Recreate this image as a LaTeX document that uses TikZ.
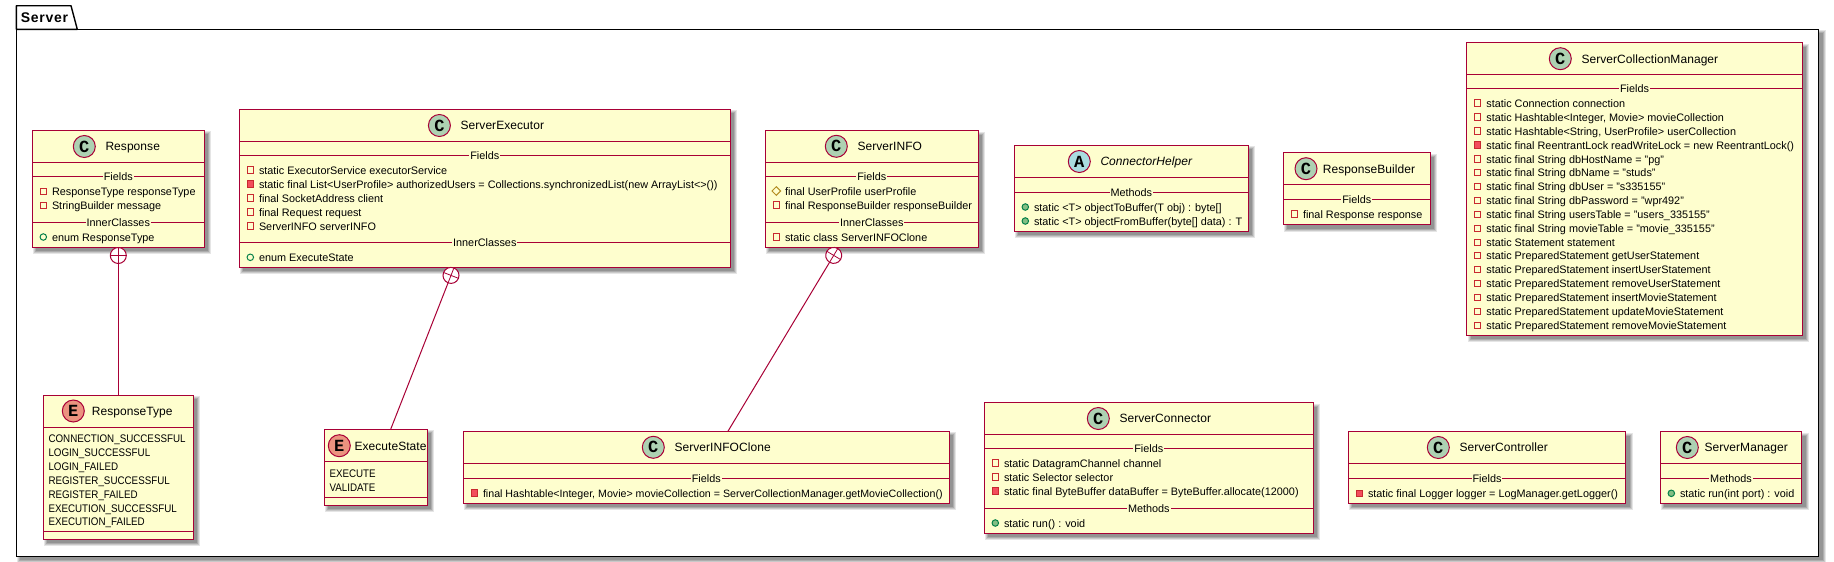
\documentclass[tikz,border=0pt]{standalone}
\usepackage{fontspec}
\setmainfont{Liberation Sans}
\newfontfamily\namefont[LetterSpace=0.5]{Liberation Sans}
\newfontfamily\pkgfont[LetterSpace=5]{Liberation Sans}
\newfontfamily\litfont[FakeStretch=0.89]{Liberation Sans}
\newfontfamily\spotfont{Liberation Mono}
\definecolor{bordr}{HTML}{A80036}
\definecolor{boxfill}{HTML}{FEFECE}
\definecolor{spotC}{HTML}{ADD1B2}
\definecolor{spotA}{HTML}{A9DCDF}
\definecolor{spotE}{HTML}{EB937F}
\definecolor{privc}{HTML}{C82930}
\definecolor{privf}{HTML}{F24D5C}
\definecolor{pubc}{HTML}{038048}
\definecolor{pubf}{HTML}{84BE84}
\definecolor{protc}{HTML}{B38D22}
\tikzset{
  x=1pt,y=-1pt,
  boxnode/.style={draw=bordr,fill=boxfill,line width=1.2pt,rectangle,inner sep=0pt,outer sep=0pt},
  memline/.style={draw=bordr,line width=1pt},
  conn/.style={draw=bordr,line width=1pt},
  plusnode/.style={circle,draw=bordr,fill=white,line width=1pt,minimum size=16pt,inner sep=0pt,outer sep=0pt},
  crossline/.style={draw=bordr,line width=.8pt},
  memtext/.style={anchor=base west,inner sep=0pt,font=\fontsize{10.85}{13}\selectfont,text=black},
  littext/.style={anchor=base west,inner sep=0pt,font=\litfont\fontsize{11}{13}\selectfont,text=black},
  seclabel/.style={anchor=center,fill=boxfill,inner xsep=1pt,inner ysep=0pt,text height=8pt,text depth=2pt,font=\fontsize{10.85}{13}\selectfont,text=black},
  nametext/.style={anchor=base west,inner sep=0pt,font=\namefont\fontsize{12}{14}\selectfont,text=black},
  spotcircle/.style={circle,draw=bordr,line width=1pt,minimum size=22pt,inner sep=0pt},
  spotletter/.style={inner sep=0pt,font=\spotfont\bfseries\fontsize{17}{17}\selectfont,text=black},
  ipriv/.style={draw=privc,line width=1pt,rectangle,minimum size=6.5pt,inner sep=0pt},
  iprivf/.style={draw=privc,fill=privf,line width=1pt,rectangle,minimum size=6.5pt,inner sep=0pt},
  ipub/.style={draw=pubc,line width=1pt,circle,minimum size=6.5pt,inner sep=0pt},
  ipubf/.style={draw=pubc,fill=pubf,line width=1pt,circle,minimum size=6.5pt,inner sep=0pt},
  iprot/.style={draw=protc,line width=1pt,diamond,minimum size=9pt,inner sep=0pt},
}
\usetikzlibrary{shapes.geometric}
\newcounter{tn}
\newcommand\shadowrect[4]{%
  \fill[black,opacity=.10] ({#1+1},{#2+1}) rectangle ({#3+7},{#4+7});
  \fill[black,opacity=.12] ({#1+2},{#2+2}) rectangle ({#3+6},{#4+6});
  \fill[black,opacity=.14] ({#1+3},{#2+3}) rectangle ({#3+5},{#4+5});
  \fill[black,opacity=.14] ({#1+4},{#2+4}) rectangle ({#3+4},{#4+4});
}
\newcommand\umlbox[5]{%
  \shadowrect{#2}{#3}{#4}{#5}%
  \node[boxnode,minimum width={(#4-#2)*1pt},minimum height={(#5-#3)*1pt}] (#1) at ({(#2+#4)/2},{(#3+#5)/2}) {};
  \gdef\bl{#2}\gdef\br{#4}%
}
% header: line y, circle x, centre y, spot colour, letter, name x, name text
\newcommand\head[7]{%
  \draw[memline] (\bl,#1) -- (\br,#1);
  \stepcounter{tn}%
  \node[spotcircle,fill=#4] (s\thetn) at (#2,#3) {};
  \node[spotletter] (l\thetn) at (#2,#3) {#5};
  \node[nametext] (n\thetn) at (#6,{#3+4.3}) {#7};
}
\newcommand\sect[2]{%
  \draw[memline] (\bl,#1) -- (\br,#1);
  \stepcounter{tn}%
  \node[seclabel] (c\thetn) at ({(\bl+\br)/2},{#1+1}) {#2};
}
\newcommand\sepl[1]{\draw[memline] (\bl,#1) -- (\br,#1);}
\newcommand\mem[3]{%
  \stepcounter{tn}%
  \node[#2] (i\thetn) at ({\bl+11},#1) {};
  \node[memtext] (m\thetn) at ({\bl+19.5},{#1+4}) {#3};
}
\newcommand\lit[2]{%
  \stepcounter{tn}%
  \node[littext] (m\thetn) at ({\bl+5},{#1+4}) {#2};
}
\begin{document}
\begin{tikzpicture}
\useasboundingbox (0,0) rectangle (1834,562);
\shadowrect{16.3}{29.3}{1818.7}{556.3}
\fill[white] (16.3,29.3) rectangle (1818.7,556.3);
\draw[black,line width=1.4pt,fill=white,line join=round] (16.3,29.3) -- (16.3,5.7) -- (71,5.7) -- (77.3,29.3) -- cycle;
\draw[black,line width=1.4pt] (16.3,29.3) rectangle (1818.7,556.3);
\node[anchor=base west,inner sep=0pt,font=\pkgfont\fontsize{14}{16}\selectfont\bfseries] (pkg) at (20.7,23) {Server};

% Response
\umlbox{Response}{32.3}{130.3}{204.3}{247.3}
\head{162.7}{84.3}{146.5}{spotC}{C}{105.3}{Response}
\sect{176.3}{Fields}
\mem{191.3}{ipriv}{ResponseType responseType}
\mem{205.3}{ipriv}{StringBuilder message}
\sect{222.3}{InnerClasses}
\mem{237}{ipub}{enum ResponseType}

% ServerExecutor
\umlbox{ServerExecutor}{239.3}{109.3}{730.3}{267.3}
\head{141.7}{439.4}{125.5}{spotC}{C}{460.4}{ServerExecutor}
\sect{155.3}{Fields}
\mem{170}{ipriv}{static ExecutorService executorService}
\mem{184}{iprivf}{static final List<UserProfile> authorizedUsers = Collections.synchronizedList(new ArrayList<>())}
\mem{198}{ipriv}{final SocketAddress client}
\mem{212}{ipriv}{final Request request}
\mem{226}{ipriv}{ServerINFO serverINFO}
\sect{242.5}{InnerClasses}
\mem{257.3}{ipub}{enum ExecuteState}

% ServerINFO
\umlbox{ServerINFO}{765.3}{130.7}{978.3}{247.3}
\head{162.3}{836.3}{146.3}{spotC}{C}{857.3}{ServerINFO}
\sect{176.3}{Fields}
\mem{191}{iprot}{final UserProfile userProfile}
\mem{205}{ipriv}{final ResponseBuilder responseBuilder}
\sect{222.3}{InnerClasses}
\mem{237}{ipriv}{static class ServerINFOClone}

% ConnectorHelper
\umlbox{ConnectorHelper}{1014.3}{145.3}{1248.3}{231.3}
\head{177.3}{1079.3}{161.5}{spotA}{A}{1100.3}{\itshape ConnectorHelper}
\sect{192.3}{Methods}
\mem{207}{ipubf}{static <T> objectToBuffer(T obj) : byte[]}
\mem{221}{ipubf}{static <T> objectFromBuffer(byte[] data) : T}

% ResponseBuilder
\umlbox{ResponseBuilder}{1283.3}{152.7}{1430.3}{224.7}
\head{184.3}{1306}{168.7}{spotC}{C}{1322.7}{ResponseBuilder}
\sect{199.3}{Fields}
\mem{214}{ipriv}{final Response response}

% ServerCollectionManager
\umlbox{ServerCollectionManager}{1466.7}{42.7}{1802.3}{335.3}
\head{74.3}{1560.3}{58.7}{spotC}{C}{1581.3}{ServerCollectionManager}
\sect{88.7}{Fields}
\mem{103}{ipriv}{static Connection connection}
\mem{117}{ipriv}{static Hashtable<Integer, Movie> movieCollection}
\mem{131}{ipriv}{static Hashtable<String, UserProfile> userCollection}
\mem{145}{iprivf}{static final ReentrantLock readWriteLock = new ReentrantLock()}
\mem{159}{ipriv}{static final String dbHostName = "pg"}
\mem{172.3}{ipriv}{static final String dbName = "studs"}
\mem{186.3}{ipriv}{static final String dbUser = "s335155"}
\mem{200.3}{ipriv}{static final String dbPassword = "wpr492"}
\mem{214.3}{ipriv}{static final String usersTable = "users\_335155"}
\mem{228.3}{ipriv}{static final String movieTable = "movie\_335155"}
\mem{242.3}{ipriv}{static Statement statement}
\mem{255.3}{ipriv}{static PreparedStatement getUserStatement}
\mem{269.3}{ipriv}{static PreparedStatement insertUserStatement}
\mem{283.3}{ipriv}{static PreparedStatement removeUserStatement}
\mem{297.3}{ipriv}{static PreparedStatement insertMovieStatement}
\mem{311.3}{ipriv}{static PreparedStatement updateMovieStatement}
\mem{325.3}{ipriv}{static PreparedStatement removeMovieStatement}

% ResponseType
\umlbox{ResponseType}{43.3}{395.3}{193.3}{539.3}
\head{427.3}{73.3}{411}{spotE}{E}{91.7}{ResponseType}
\lit{438}{CONNECTION\_SUCCESSFUL}
\lit{452}{LOGIN\_SUCCESSFUL}
\lit{466}{LOGIN\_FAILED}
\lit{480}{REGISTER\_SUCCESSFUL}
\lit{494}{REGISTER\_FAILED}
\lit{508}{EXECUTION\_SUCCESSFUL}
\lit{521.3}{EXECUTION\_FAILED}
\sepl{531.3}

% ExecuteState
\umlbox{ExecuteState}{324.3}{429.3}{427.3}{505.3}
\head{461.3}{339.3}{445.7}{spotE}{E}{354.3}{ExecuteState}
\lit{473}{EXECUTE}
\lit{487}{VALIDATE}
\sepl{497.3}

% ServerINFOClone
\umlbox{ServerINFOClone}{463.3}{431.3}{949.3}{503.3}
\head{463.3}{653.3}{447.3}{spotC}{C}{674.3}{ServerINFOClone}
\sect{478.3}{Fields}
\mem{493}{iprivf}{\fontsize{10.65}{13}\selectfont final Hashtable<Integer, Movie> movieCollection = ServerCollectionManager.getMovieCollection()}

% ServerConnector
\umlbox{ServerConnector}{984.3}{402.7}{1313.3}{533.3}
\head{434.3}{1098.3}{418.5}{spotC}{C}{1119.3}{ServerConnector}
\sect{448.3}{Fields}
\mem{463}{ipriv}{static DatagramChannel channel}
\mem{477}{ipriv}{static Selector selector}
\mem{491}{iprivf}{static final ByteBuffer dataBuffer = ByteBuffer.allocate(12000)}
\sect{508.3}{Methods}
\mem{523}{ipubf}{static run() : void}

% ServerController
\umlbox{ServerController}{1348.3}{431.7}{1625.7}{503.3}
\head{463.3}{1438.3}{447.5}{spotC}{C}{1459.3}{ServerController}
\sect{478.3}{Fields}
\mem{493.3}{iprivf}{static final Logger logger = LogManager.getLogger()}

% ServerManager
\umlbox{ServerManager}{1660.3}{431.7}{1801.7}{503.3}
\head{463.3}{1687.3}{447.5}{spotC}{C}{1704.3}{ServerManager}
\sect{478.3}{Methods}
\mem{493.3}{ipubf}{static run(int port) : void}

% Inner-class connectors
\node[plusnode] (plusR) at (118.3,255.5) {};
\draw[crossline] (plusR.north) -- (plusR.south) (plusR.west) -- (plusR.east);
\draw[conn] (plusR) -- (ResponseType);
\node[plusnode,rotate=-21.4] (plusE) at (451,275.4) {};
\draw[crossline] (plusE.north) -- (plusE.south) (plusE.west) -- (plusE.east);
\draw[conn] (plusE) -- (ExecuteState);
\node[plusnode,rotate=-31] (plusI) at (833.7,255.4) {};
\draw[crossline] (plusI.north) -- (plusI.south) (plusI.west) -- (plusI.east);
\draw[conn] (plusI) -- (ServerINFOClone);
\end{tikzpicture}
\end{document}
